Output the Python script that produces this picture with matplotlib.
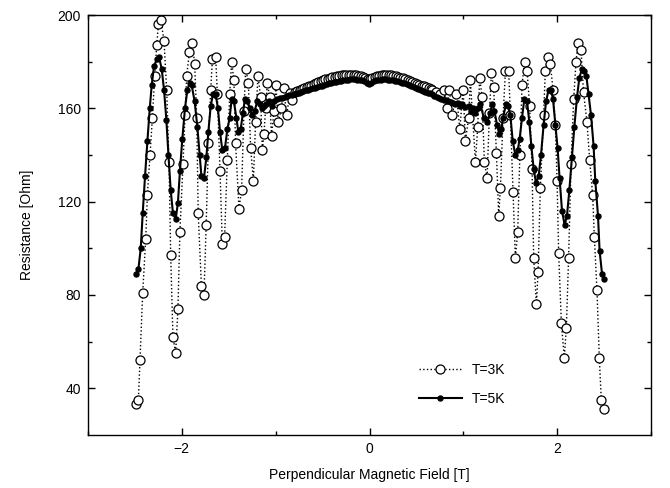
import matplotlib
matplotlib.use("Agg")
import matplotlib.pyplot as plt

plt.rcParams["font.family"] = ["Liberation Sans", "DejaVu Sans"]
plt.rcParams["font.size"] = 10

# T = 3K, field [T]
field_3k = [
    -2.489, -2.461, -2.444, -2.415, -2.383, -2.365, -2.337, -2.312, -2.287, -2.266,
    -2.248, -2.223, -2.188, -2.160, -2.135, -2.117, -2.093, -2.064, -2.040, -2.019,
    -1.986, -1.965, -1.947, -1.918, -1.886, -1.862, -1.840, -1.824, -1.790, -1.763,
    -1.739, -1.716, -1.691, -1.673, -1.638, -1.620, -1.592, -1.567, -1.543, -1.514,
    -1.489, -1.468, -1.444, -1.426, -1.390, -1.362, -1.337, -1.319, -1.290, -1.266,
    -1.237, -1.213, -1.188, -1.160, -1.141, -1.124, -1.106, -1.088, -1.064, -1.043,
    -1.018, -0.997, -0.971, -0.939, -0.912, -0.883, -0.848, -0.822, -0.795,
    -0.770, -0.745, -0.720, -0.695, -0.670, -0.645, -0.620, -0.595, -0.570, -0.545,
    -0.520, -0.495, -0.470, -0.445, -0.420, -0.395, -0.370, -0.345, -0.320, -0.295,
    -0.270, -0.245, -0.220, -0.195, -0.170, -0.145, -0.120, -0.095, -0.070, -0.045,
    -0.020, 0.005, 0.030, 0.055, 0.080, 0.105, 0.130, 0.155, 0.180, 0.205,
    0.230, 0.255, 0.280, 0.305, 0.330, 0.355, 0.380, 0.405, 0.430, 0.455,
    0.480, 0.505, 0.530, 0.555, 0.580, 0.605, 0.630, 0.650,
    0.667, 0.713, 0.755, 0.790, 0.827, 0.851, 0.880, 0.926, 0.961, 0.997,
    1.021, 1.056, 1.074, 1.128, 1.152, 1.173, 1.199, 1.223, 1.252, 1.277,
    1.298, 1.322, 1.351, 1.376, 1.394, 1.422, 1.447, 1.482, 1.500, 1.529,
    1.553, 1.578, 1.601, 1.624, 1.652, 1.678, 1.705, 1.731, 1.748, 1.777,
    1.795, 1.819, 1.854, 1.872, 1.897, 1.926, 1.954, 1.979, 1.997, 2.014,
    2.043, 2.074, 2.096, 2.120, 2.146, 2.174, 2.199, 2.220, 2.252, 2.279,
    2.316, 2.344, 2.376, 2.394, 2.422, 2.447, 2.468, 2.493,
]
res_3k = [
    33, 35, 52, 81, 104, 123, 140, 156, 174, 187,
    196, 198, 189, 168, 137, 97, 62, 55, 74, 107,
    136, 157, 174, 184, 188, 179, 156, 115, 84, 80,
    110, 145, 168, 181, 182, 166, 133, 102, 105, 138,
    166, 180, 172, 145, 117, 125, 159, 177, 171, 143,
    129, 154, 174, 165, 142, 149, 160, 171, 165, 148,
    159, 170, 154, 160, 168.6, 157, 166.4, 163.6, 167,
    167.5, 168, 168.3, 168.6, 169, 169.4, 169.8, 170.3, 170.8, 171.2,
    171.6, 172, 172.4, 172.7, 173, 173.3, 173.6, 173.9, 174.1, 174.3,
    174.4, 174.5, 174.5, 174.5, 174.4, 174.3, 174.1, 173.9, 173.6, 173.2,
    172.6, 172.5, 173, 173.5, 173.9, 174.1, 174.3, 174.4, 174.4, 174.3,
    174.2, 174, 173.8, 173.5, 173.2, 172.9, 172.6, 172.2, 171.8, 171.4,
    171, 170.6, 170.2, 169.8, 169.4, 169, 168.6, 168.3,
    168, 167, 166, 168, 160, 168, 157, 166, 151, 168,
    146, 156, 172, 137, 152, 173, 165, 137, 130, 158,
    175, 169, 141, 114, 126, 156, 176, 176, 157, 124,
    96, 107, 140, 170, 180, 176, 161, 134, 96, 76,
    90, 126, 157, 176, 182, 179, 168, 153, 129, 98,
    68, 53, 66, 96, 136, 164, 180, 188, 185, 167,
    154, 138, 123, 105, 82, 53, 35, 31,
]

# T = 5K
field_5k = [
    -2.489, -2.461, -2.436, -2.415, -2.390, -2.365, -2.340, -2.319, -2.295, -2.266,
    -2.241, -2.213, -2.188, -2.163, -2.141, -2.117, -2.093, -2.064, -2.040, -2.019,
    -1.993, -1.965, -1.939, -1.915, -1.894, -1.862, -1.833, -1.809, -1.790, -1.763,
    -1.737, -1.716, -1.691, -1.667, -1.638, -1.614, -1.592, -1.567, -1.539, -1.514,
    -1.489, -1.468, -1.444, -1.418, -1.397, -1.372, -1.348, -1.327, -1.301, -1.277,
    -1.248, -1.223, -1.195, -1.170, -1.149, -1.124, -1.099, -1.071, -1.043, -1.018,
    -0.982, -0.955, -0.930, -0.905, -0.880, -0.855, -0.830, -0.805, -0.780, -0.755,
    -0.730, -0.705, -0.680, -0.655, -0.630, -0.605, -0.580, -0.555, -0.530, -0.505,
    -0.480, -0.455, -0.430, -0.405, -0.380, -0.355, -0.330, -0.305, -0.280, -0.255,
    -0.230, -0.205, -0.180, -0.155, -0.130, -0.105, -0.080, -0.055, -0.030, -0.005,
    0.020, 0.045, 0.070, 0.095, 0.120, 0.145, 0.170, 0.195, 0.220, 0.245,
    0.270, 0.295, 0.320, 0.345, 0.370, 0.395, 0.420, 0.445, 0.470, 0.495,
    0.520, 0.545, 0.570, 0.595, 0.620, 0.645, 0.667, 0.690, 0.715, 0.740,
    0.765, 0.790, 0.815, 0.840, 0.865, 0.890, 0.915, 0.940, 0.965, 0.990,
    1.020, 1.056, 1.082, 1.105, 1.128, 1.155, 1.181, 1.216, 1.252, 1.287,
    1.305, 1.330, 1.358, 1.382, 1.404, 1.422, 1.454, 1.475, 1.500, 1.525,
    1.553, 1.578, 1.599, 1.624, 1.649, 1.678, 1.702, 1.723, 1.748, 1.773,
    1.801, 1.826, 1.854, 1.880, 1.907, 1.933, 1.954, 1.979, 2.003, 2.024,
    2.050, 2.078, 2.103, 2.128, 2.156, 2.181, 2.210, 2.234, 2.263, 2.287,
    2.309, 2.333, 2.359, 2.386, 2.404, 2.433, 2.450, 2.476, 2.500,
]
res_5k = [
    89, 91, 100, 115, 131, 146, 160, 170, 178, 181,
    182, 177, 168, 155, 140, 125, 115, 112.5, 119.5, 133,
    147, 160, 168, 171, 170, 163, 152, 140, 131, 130,
    139, 150, 161, 166, 166, 160, 150, 142, 143, 151,
    156, 164, 163, 156, 150, 151, 158, 164, 163, 160,
    157, 159, 163, 162, 160, 161, 162, 163, 161, 163,
    164, 164.3, 164.6, 165, 165.3, 165.6, 165.9, 166.2, 166.5, 166.8,
    167.1, 167.4, 167.7, 168, 168.3, 168.6, 168.9, 169.2, 169.5, 169.8,
    170.1, 170.4, 170.7, 171, 171.3, 171.5, 171.7, 171.9, 172.1, 172.2,
    172.3, 172.4, 172.4, 172.4, 172.3, 172.2, 172, 171.6, 171, 170.6,
    171, 171.6, 172, 172.2, 172.3, 172.4, 172.4, 172.3, 172.2, 172,
    171.8, 171.6, 171.3, 171, 170.7, 170.4, 170, 169.6, 169.2, 168.8,
    168.4, 168, 167.6, 167.2, 166.8, 166.4, 166, 165.5, 165, 164.5,
    164, 163.8, 163.4, 163, 162.6, 162.3, 162, 162.5, 161, 162,
    160.5, 161, 159, 160, 158, 160, 162, 156, 154, 158,
    162, 159, 153, 149, 151, 156, 162, 161, 157, 146,
    140, 142, 147, 156, 164, 163, 154, 144, 134, 128,
    131, 140, 153, 163, 168, 168, 164, 153, 143, 130,
    116, 110, 114, 125, 139, 152, 165, 173, 177, 176,
    174, 166, 157, 144, 129, 114, 99, 89, 87,
]

x_major = [-2, 0, 2]
x_minor = [-3, -1, 1, 3]
y_major = [40, 80, 120, 160, 200]
y_minor = [60, 100, 140, 180]

fig = plt.figure(figsize=(6.7, 4.88), dpi=100)
ax = fig.add_axes([0.131, 0.109, 0.841, 0.860])

ax.plot(field_3k, res_3k, linestyle=":", color="black", lw=1.0,
        marker="o", markersize=6.5, markerfacecolor="white",
        markeredgecolor="black", markeredgewidth=0.9, label="T=3K")
ax.plot(field_5k, res_5k, linestyle="-", color="black", lw=1.5,
        marker="o", markersize=3.6, label="T=5K")

ax.set_xlim(-3, 3)
ax.set_ylim(20, 200)
ax.set_xticks(x_major)
ax.set_xticks(x_minor, minor=True)
ax.set_yticks(y_major)
ax.set_yticks(y_minor, minor=True)
ax.tick_params(which="both", direction="in", top=True, right=True, width=1)
ax.tick_params(which="major", length=5, labelsize=10, pad=5)
ax.tick_params(which="minor", length=3)
for s in ax.spines.values():
    s.set_linewidth(1)

ax.set_xlabel("Perpendicular Magnetic Field [T]", fontsize=10, labelpad=9)
ax.set_ylabel("Resistance [Ohm]", fontsize=10, labelpad=17)

ax.legend(loc="lower left", bbox_to_anchor=(0.565, 0.04), frameon=False,
          handlelength=3.1, handletextpad=0.7, labelspacing=1.05, fontsize=10)

fig.savefig("out.png", dpi=100)
